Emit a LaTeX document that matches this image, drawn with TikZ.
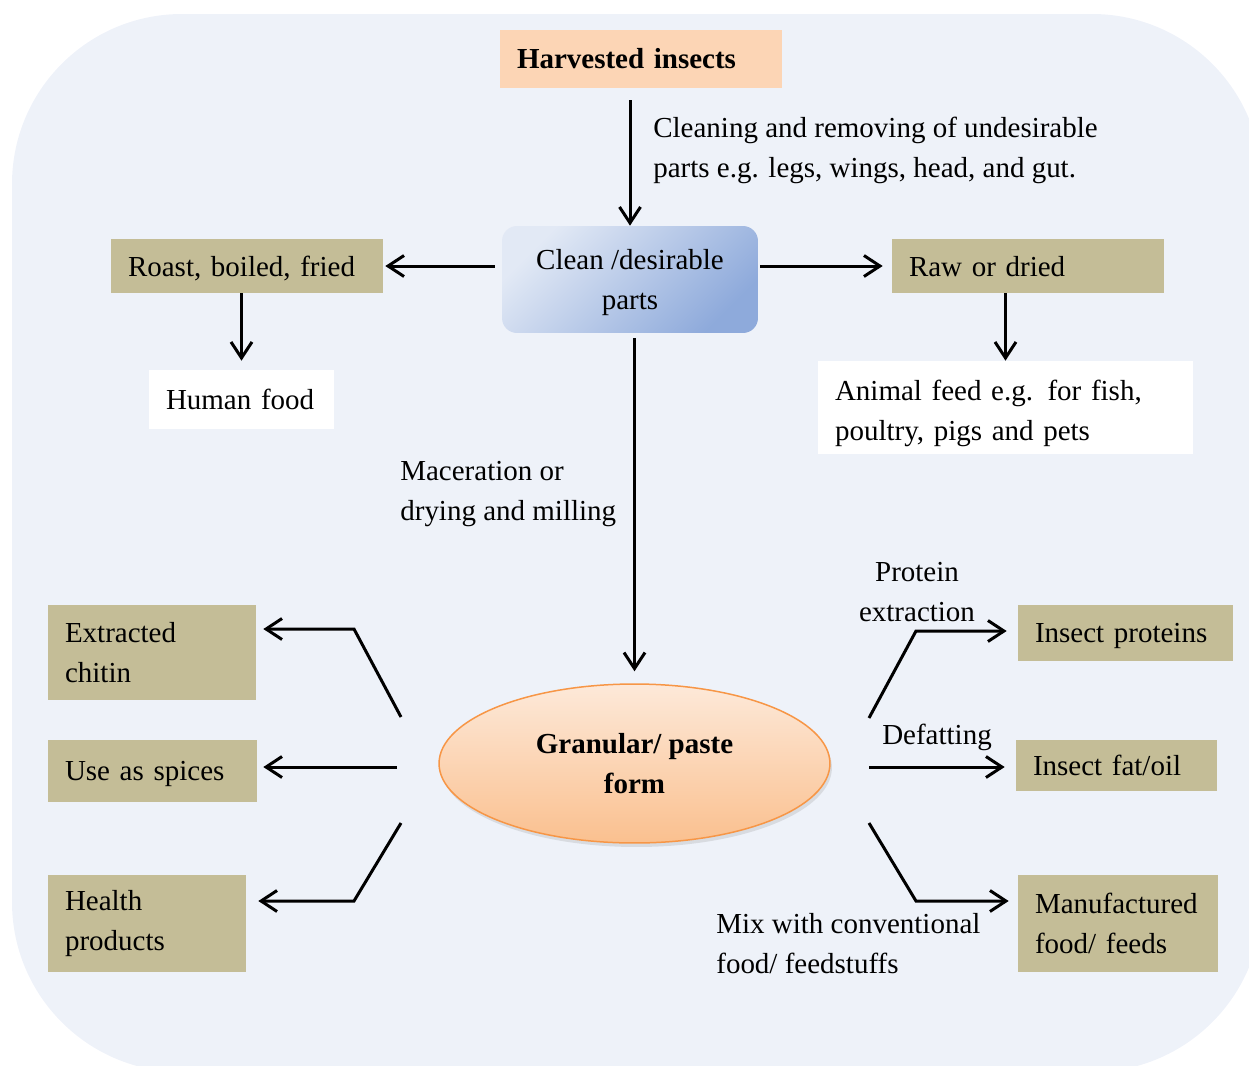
\documentclass[tikz,border=0pt]{standalone}
\usepackage{fontspec}
\setmainfont{Liberation Serif}
\usetikzlibrary{arrows.meta,shapes.geometric,shadows}
\definecolor{bgblue}{HTML}{EEF2F9}
\definecolor{peach}{HTML}{FCD5B5}
\definecolor{khaki}{HTML}{C4BD97}
\definecolor{paleblue}{HTML}{E2E9F5}
\definecolor{midblue}{HTML}{8EAADB}
\definecolor{palepeach}{HTML}{FDE9D9}
\definecolor{darkpeach}{HTML}{FAC08F}
\definecolor{orangeline}{HTML}{F79646}
\begin{document}
\begin{tikzpicture}[x=0.02cm,y=-0.02cm,
		font=\fontsize{16.5}{22.7}\selectfont,
		arr/.style={-{Straight Barb[length=0.32cm,width=0.42cm]},line width=0.06cm},
		tanbox/.style={fill=khaki,inner xsep=0.34cm,inner ysep=0pt,align=left},
		whitebox/.style={fill=white,inner xsep=0.34cm,inner ysep=0pt,align=left},
		oneline/.style={text depth=0pt},
		lbl/.style={inner sep=0pt,align=left}]
			\useasboundingbox (0,0) rectangle (1249,1066);
			\begin{scope}
				\clip (0,0) rectangle (1249,1066);
				\fill[bgblue,rounded corners=3.4cm] (12,14) rectangle (1262,1072);
			\end{scope}
			\node[fill=peach,inner xsep=0.34cm,text width=4.96cm,minimum height=1.16cm,align=left,font=\fontsize{16.5}{22.7}\selectfont\bfseries] (harvest) at (641,59) {Harvested insects};
			\node[rounded corners=0.3cm,top color=paleblue,bottom color=midblue,shading angle=45,minimum width=5.12cm,minimum height=2.14cm,text depth=0pt,align=center] (clean) at (630,279.5) {Clean /desirable\\parts};
			\node[tanbox,oneline,text width=4.76cm,minimum height=1.08cm] (roast) at (247,266) {Roast, boiled, fried};
			\node[whitebox,oneline,text width=3.02cm,minimum height=1.18cm] (human) at (241.5,399.5) {Human food};
			\node[tanbox,oneline,text width=4.76cm,minimum height=1.08cm] (raw) at (1028,266) {Raw or dried};
			\node[whitebox,text width=6.82cm,minimum height=1.86cm] (animal) at (1005.5,407.5) {\rule{0pt}{0.64cm}Animal feed e.g. for fish,\\poultry, pigs and pets};
			\node[ellipse,draw=orangeline,line width=0.03cm,top color=palepeach,bottom color=darkpeach,minimum width=7.82cm,minimum height=3.18cm,inner sep=0pt,align=center,font=\fontsize{16.5}{22.7}\selectfont\bfseries,drop shadow={opacity=0.2,shadow xshift=0.04cm,shadow yshift=-0.08cm}] (gran) at (634.5,763.5) {Granular/ paste\\form};
			\node[tanbox,text width=3.48cm,minimum height=1.90cm] (chitin) at (152,652.5) {Extracted\\chitin};
			\node[tanbox,oneline,text width=3.50cm,minimum height=1.24cm] (spices) at (152.5,771) {Use as spices};
			\node[tanbox,text width=3.28cm,minimum height=1.94cm] (health) at (147,923.5) {Health\\products};
			\node[tanbox,oneline,text width=3.62cm,minimum height=1.12cm] (proteins) at (1125.5,633) {Insect proteins};
			\node[tanbox,oneline,text width=3.34cm,minimum height=1.02cm] (fatoil) at (1116.5,765.5) {Insect fat/oil};
			\node[tanbox,text width=3.32cm,minimum height=1.94cm] (manuf) at (1118,923.5) {Manufactured\\food/ feeds};
			\node[lbl,anchor=west] (cleaning) at (653,150) {Cleaning and removing of undesirable\\parts e.g. legs, wings, head, and gut.};
			\node[lbl,anchor=west] (macer) at (400,494) {Maceration or\\drying and milling};
			\node[lbl,align=center] (protext) at (917,592) {Protein\\extraction};
			\node[lbl] (defat) at (937,737) {Defatting};
			\node[lbl,anchor=west] (mix) at (716,944) {Mix with conventional\\food/ feedstuffs};
			\coordinate (lt) at (401,717);
			\coordinate (ltk) at (354,629);
			\coordinate (lm) at (397,767);
			\coordinate (lb) at (401,823);
			\coordinate (lbk) at (354,901);
			\coordinate (rt) at (869,718);
			\coordinate (rtk) at (916,631);
			\coordinate (rm) at (869,767);
			\coordinate (rb) at (869,823);
			\coordinate (rbk) at (916,901);
			\draw[arr,shorten <=0.24cm] (clean.north |- harvest.south) -- (clean.north);
			\draw[arr,shorten <=0.14cm,shorten >=0.04cm] (clean.west |- roast.east) -- (roast.east);
			\draw[arr,shorten <=0.04cm,shorten >=0.18cm] (clean.east |- raw.west) -- (raw.west);
			\draw[arr,shorten >=0.18cm] (human.north |- roast.south) -- (human.north);
			\draw[arr] (animal.north |- raw.south) -- (animal.north);
			\draw[arr,shorten <=0.1cm,shorten >=0.24cm] (gran.north |- clean.south) -- (gran.north);
			\draw[arr,shorten >=0.14cm] (lt) -- (ltk) -- (chitin.east |- ltk);
			\draw[arr,shorten >=0.12cm] (lm) -- (spices.east |- lm);
			\draw[arr,shorten >=0.24cm] (lb) -- (lbk) -- (health.east |- lbk);
			\draw[arr,shorten >=0.22cm] (rt) -- (rtk) -- (proteins.west |- rtk);
			\draw[arr,shorten >=0.22cm] (rm) -- (fatoil.west |- rm);
			\draw[arr,shorten >=0.18cm] (rb) -- (rbk) -- (manuf.west |- rbk);
		\end{tikzpicture}
\end{document}
